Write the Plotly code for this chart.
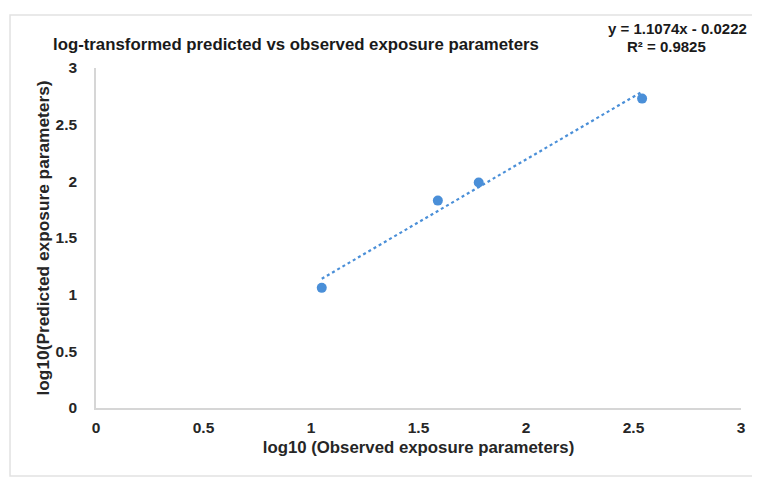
import plotly.graph_objects as go

# Data
observed_log = [1.05, 1.59, 1.78, 2.54]
predicted_log = [1.06, 1.83, 1.99, 2.73]
trend_slope = 1.1074
trend_intercept = -0.0222
r_squared = 0.9825
x_ticks = [0, 0.5, 1, 1.5, 2, 2.5, 3]
y_ticks = [0, 0.5, 1, 1.5, 2, 2.5, 3]

FONT = "Liberation Sans, Arial, sans-serif"
BLUE = "#4a8fd8"
TXT = "#262626"

x0, x1 = min(observed_log), max(observed_log)
trend_x = [x0, x1]
trend_y = [trend_slope * v + trend_intercept for v in trend_x]

fig = go.Figure()
fig.add_trace(go.Scatter(x=trend_x, y=trend_y, mode="lines",
                         line=dict(color=BLUE, width=2.2, dash="dot"),
                         hoverinfo="skip", showlegend=False))
fig.add_trace(go.Scatter(x=observed_log, y=predicted_log, mode="markers",
                         marker=dict(color=BLUE, size=10), showlegend=False))

# page body adds an 8px offset; size/margins compensate for it
fig.update_layout(
    width=752, height=470,
    margin=dict(l=88, r=19, t=60, b=70),
    paper_bgcolor="white", plot_bgcolor="white",
    font=dict(family=FONT, color=TXT, size=13),
    xaxis=dict(range=[0, 3], tickvals=x_ticks,
               ticktext=[f"<b>{v:g}</b>" for v in x_ticks],
               showgrid=False, zeroline=False, showline=True, automargin=False,
               linecolor="#d6d6d6", linewidth=1.5, ticks="", ticklabelstandoff=5,
               tickfont=dict(family=FONT, size=15.5, color=TXT),
               title=dict(text="<b>log10 (Observed exposure parameters)</b>",
                          font=dict(family=FONT, size=16.8, color=TXT), standoff=6)),
    yaxis=dict(range=[0, 3], tickvals=y_ticks,
               ticktext=[f"<b>{v:g}</b>" for v in y_ticks],
               showgrid=False, zeroline=False, showline=True, automargin=False,
               linecolor="#d6d6d6", linewidth=1.5, ticks="", ticklabelstandoff=14,
               tickfont=dict(family=FONT, size=15.5, color=TXT),
               title=dict(text="<b>log10(Predicted exposure parameters)</b>",
                          font=dict(family=FONT, size=17.3, color=TXT), standoff=2)),
)

fig.add_annotation(xref="paper", yref="paper", x=0.31, y=1.07, xanchor="center", yanchor="middle",
                   text="<b>log-transformed predicted vs observed exposure parameters</b>",
                   showarrow=False, font=dict(family=FONT, size=16.8, color="#1a1a1a"))
fig.add_annotation(xref="paper", yref="paper", x=0.902, y=1.117, xanchor="center", yanchor="middle",
                   text=f"<b>y = {trend_slope:.4f}x - {abs(trend_intercept):.4f}</b>",
                   showarrow=False, font=dict(family=FONT, size=15, color="#1a1a1a"))
fig.add_annotation(xref="paper", yref="paper", x=0.885, y=1.062, xanchor="center", yanchor="middle",
                   text=f"<b>R² = {r_squared:.4f}</b>",
                   showarrow=False, font=dict(family=FONT, size=15, color="#1a1a1a"))

# faint chart-area border
fig.add_shape(type="rect", xref="paper", yref="paper", x0=-0.1333, x1=1.04, y0=-0.2, y1=1.156,
              line=dict(color="#e2e2e2", width=1.5), fillcolor="rgba(0,0,0,0)", layer="below")

fig.write_html("out.html")
